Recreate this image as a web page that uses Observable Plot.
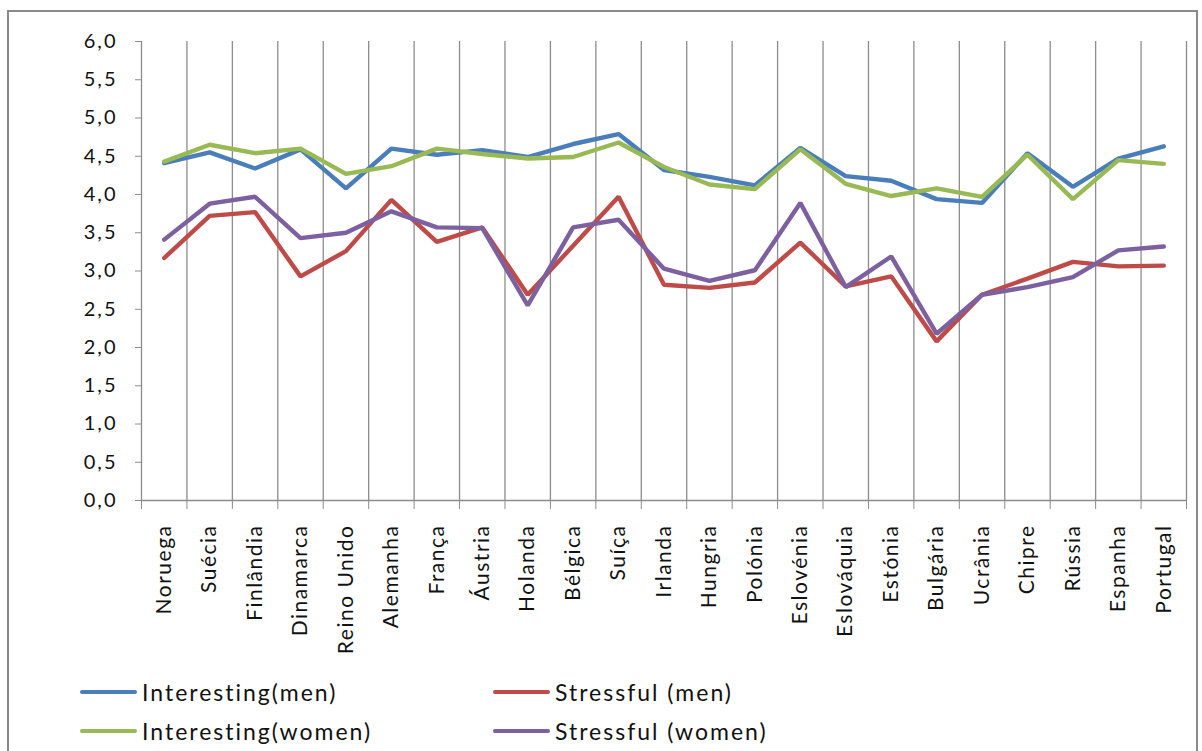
<!DOCTYPE html>
<html>
<head>
<meta charset="utf-8">
<script src="https://cdn.jsdelivr.net/npm/d3@7"></script>
<script src="https://cdn.jsdelivr.net/npm/@observablehq/plot@0.6"></script>
<style>
  html, body { margin: 0; padding: 0; background: #fff; width: 1202px; height: 751px; overflow: hidden; }
  #frame { position: absolute; left: 7px; top: 10px; width: 1191px; height: 800px; border: 2px solid #8a8a8a; box-sizing: border-box; }
  #chart { position: absolute; left: 0; top: 0; }
  #legend { position: absolute; left: 0; top: 0; font-family: Lato, "Open Sans", sans-serif; font-size: 23px; letter-spacing: 2px; color: #111; }
  .item { position: absolute; display: flex; align-items: center; white-space: nowrap; }
  .sw { width: 57px; height: 4px; border-radius: 2px; margin-right: 5px; }
</style>
</head>
<body>
<div id="frame"></div>
<div id="chart"></div>
<div id="legend"></div>
<script>
const countries = ["Noruega","Suécia","Finlândia","Dinamarca","Reino Unido","Alemanha","França","Áustria","Holanda","Bélgica","Suíça","Irlanda","Hungria","Polónia","Eslovénia","Eslováquia","Estónia","Bulgária","Ucrânia","Chipre","Rússia","Espanha","Portugal"];
const interestingMen   = [4.41,4.55,4.34,4.59,4.08,4.60,4.52,4.58,4.49,4.66,4.79,4.32,4.23,4.12,4.61,4.24,4.18,3.94,3.89,4.54,4.10,4.47,4.63];
const interestingWomen = [4.43,4.65,4.54,4.60,4.27,4.37,4.60,4.53,4.47,4.49,4.68,4.36,4.13,4.07,4.59,4.14,3.98,4.08,3.97,4.52,3.94,4.45,4.40];
const stressfulMen     = [3.17,3.72,3.77,2.93,3.26,3.93,3.38,3.57,2.69,3.33,3.97,2.82,2.78,2.85,3.37,2.80,2.93,2.08,2.69,2.90,3.12,3.06,3.07];
const stressfulWomen   = [3.41,3.88,3.97,3.43,3.50,3.78,3.57,3.56,2.55,3.57,3.67,3.03,2.87,3.01,3.89,2.79,3.19,2.18,2.69,2.79,2.92,3.27,3.32];
const seriesNames  = ["Interesting(men)","Stressful (men)","Interesting(women)","Stressful (women)"];
const seriesColors = ["#4A7EBB","#BE4B48","#98B954","#7D60A0"];
const yTicks = [0,0.5,1,1.5,2,2.5,3,3.5,4,4.5,5,5.5,6];

const seriesValues = [interestingMen, stressfulMen, interestingWomen, stressfulWomen];
const data = seriesNames.flatMap((name, s) => seriesValues[s].map((v, i) => ({series: name, i, v})));
const drawOrder = ["Interesting(men)","Interesting(women)","Stressful (men)","Stressful (women)"];

const grid = "#8c8c8c";
const font = "Lato, 'Open Sans', sans-serif";

const chart = Plot.plot({
  width: 1202,
  height: 660,
  marginLeft: 141,
  marginRight: 16,
  marginTop: 41,
  marginBottom: 160,
  style: {fontFamily: font, background: "transparent", color: "#111", overflow: "visible"},
  x: {domain: [0, countries.length], axis: null},
  y: {domain: [0, 6], axis: null},
  color: {domain: seriesNames, range: seriesColors},
  marks: [
    Plot.ruleX(d3.range(0, countries.length + 1), {stroke: grid, strokeWidth: 1.3}),
    Plot.ruleY([0], {stroke: grid, strokeWidth: 1.3}),
    Plot.axisY({ticks: yTicks, tickSize: 6, tickPadding: 18, stroke: grid, fill: "#111", fontSize: 20, label: null,
      tickFormat: d => d3.format(".1f")(d).replace(".", ",")}),
    Plot.axisX({ticks: d3.range(0, countries.length + 1), tickSize: 9, stroke: grid, label: null, tickFormat: () => ""}),
    Plot.axisX({ticks: countries.map((c, i) => i + 0.5), tickSize: 0, tickPadding: 24, tickRotate: -90, label: null,
      fill: "#111", fontSize: 21, tickFormat: d => countries[Math.floor(d)]}),
    ...drawOrder.map(name => Plot.line(data.filter(d => d.series === name),
      {x: d => d.i + 0.5, y: "v", stroke: "series", strokeWidth: 4.4, strokeLinejoin: "miter"}))
  ]
});
d3.select(chart).selectAll("g[aria-label='y-axis tick label'] text").attr("letter-spacing", "2px");
d3.select(chart).selectAll("g[aria-label='x-axis tick label'] text").attr("letter-spacing", "1.5px");
document.getElementById("chart").appendChild(chart);

const legendPos = [
  {left: 80, top: 692}, {left: 493, top: 692},
  {left: 80, top: 731}, {left: 493, top: 731}
];
const legend = document.getElementById("legend");
seriesNames.forEach((name, k) => {
  const el = document.createElement("div");
  el.className = "item";
  el.style.left = legendPos[k].left + "px";
  el.style.top = (legendPos[k].top - 14) + "px";
  el.style.height = "28px";
  el.innerHTML = `<span class="sw" style="background:${seriesColors[k]}"></span><span>${name}</span>`;
  legend.appendChild(el);
});
</script>
</body>
</html>
